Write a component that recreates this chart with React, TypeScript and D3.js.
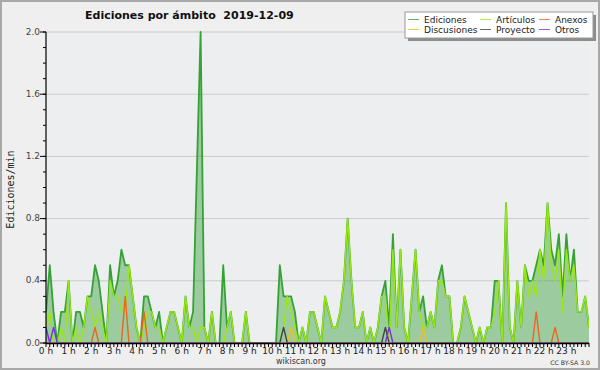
import React from 'react'
import * as d3 from 'd3'

// muestras cada 10 minutos, 0h -> 24h (145 puntos)
const hourLabels = ['0 h', '1 h', '2 h', '3 h', '4 h', '5 h', '6 h', '7 h', '8 h', '9 h', '10 h', '11 h',
	'12 h', '13 h', '14 h', '15 h', '16 h', '17 h', '18 h', '19 h', '20 h', '21 h', '22 h', '23 h']
const yTicks = [0, 0.4, 0.8, 1.2, 1.6, 2.0]

const ediciones = [
	0.2, 0.5, 0.2, 0, 0.2, 0.2, 0.4, 0, 0.2, 0.2, 0.1, 0.3,
	0.3, 0.5, 0.4, 0.2, 0, 0.5, 0.3, 0.4, 0.6, 0.5, 0.5, 0.3,
	0.1, 0, 0.3, 0.3, 0.2, 0.1, 0.2, 0, 0.1, 0.2, 0.2, 0.1,
	0, 0.3, 0.1, 0.2, 1.1, 2.0, 0.1, 0, 0.2, 0, 0, 0.5,
	0.1, 0.2, 0, 0, 0, 0.2, 0, 0, 0, 0, 0, 0,
	0, 0, 0.5, 0.3, 0.3, 0.3, 0.2, 0, 0.1, 0, 0.2, 0.2,
	0.1, 0, 0.3, 0.2, 0.1, 0.1, 0.2, 0.4, 0.8, 0.4, 0.1, 0.1,
	0.2, 0, 0.1, 0, 0.1, 0.3, 0.4, 0.1, 0.7, 0.1, 0.6, 0.1,
	0, 0.3, 0.6, 0.2, 0.3, 0.1, 0.2, 0.1, 0.4, 0.5, 0.3, 0.3,
	0, 0, 0.1, 0.3, 0.2, 0.1, 0, 0.1, 0, 0.1, 0.1, 0.4,
	0.4, 0, 0.9, 0.1, 0, 0.4, 0.1, 0.5, 0.4, 0.4, 0.5, 0.6,
	0.5, 0.9, 0.6, 0.5, 0.7, 0.3, 0.7, 0.4, 0.6, 0.2, 0.2, 0.3,
	0.1,
]

const articulos = [
	0.1, 0.2, 0, 0, 0.1, 0, 0.4, 0, 0.1, 0, 0.1, 0.3,
	0.2, 0.1, 0.2, 0.1, 0, 0.4, 0.3, 0.3, 0.2, 0.2, 0.5, 0.3,
	0.1, 0, 0.1, 0.2, 0.2, 0.1, 0.1, 0, 0.1, 0.2, 0.2, 0.1,
	0, 0.3, 0.1, 0.1, 0, 0.1, 0.1, 0, 0.2, 0, 0, 0,
	0.1, 0.2, 0, 0, 0, 0.2, 0, 0, 0, 0, 0, 0,
	0, 0, 0, 0.1, 0.3, 0.2, 0.1, 0, 0.1, 0, 0.2, 0.2,
	0.1, 0, 0.3, 0.2, 0.1, 0.1, 0.2, 0.4, 0.8, 0.4, 0.1, 0.1,
	0.2, 0, 0.1, 0, 0.1, 0.3, 0.3, 0, 0.6, 0.1, 0.6, 0.1,
	0, 0.3, 0.6, 0.2, 0.1, 0.1, 0.2, 0.1, 0.4, 0.4, 0.3, 0.3,
	0, 0, 0.1, 0.3, 0.2, 0.1, 0, 0.1, 0, 0.1, 0.1, 0.2,
	0.4, 0, 0.9, 0.1, 0, 0.4, 0.1, 0.5, 0.3, 0.4, 0.3, 0.6,
	0.4, 0.9, 0.5, 0.4, 0.6, 0.2, 0.6, 0.4, 0.5, 0.2, 0.2, 0.3,
	0.1,
]

const anexos = [
	0, 0, 0, 0, 0, 0, 0, 0, 0, 0, 0, 0,
	0, 0.1, 0, 0, 0, 0, 0, 0, 0, 0.3, 0, 0,
	0, 0, 0.2, 0, 0, 0, 0, 0, 0, 0, 0, 0,
	0, 0, 0, 0, 0, 0, 0, 0, 0, 0, 0, 0,
	0, 0, 0, 0, 0, 0, 0, 0, 0, 0, 0, 0,
	0, 0, 0, 0, 0, 0, 0, 0, 0, 0, 0, 0,
	0, 0, 0, 0, 0, 0, 0, 0, 0, 0, 0, 0,
	0, 0, 0, 0, 0, 0, 0, 0, 0, 0, 0, 0,
	0, 0, 0, 0, 0, 0, 0, 0, 0, 0, 0, 0,
	0, 0, 0, 0, 0, 0, 0, 0, 0, 0, 0, 0,
	0, 0, 0, 0, 0, 0, 0, 0, 0, 0, 0.2, 0,
	0, 0, 0, 0.1, 0, 0, 0, 0, 0, 0, 0, 0,
	0,
]

const discusiones = [
	0, 0, 0, 0, 0, 0, 0, 0, 0, 0, 0, 0,
	0, 0, 0, 0, 0, 0, 0, 0, 0, 0, 0, 0,
	0, 0, 0, 0, 0, 0, 0, 0, 0, 0, 0, 0,
	0, 0, 0, 0, 0, 0, 0, 0, 0, 0, 0, 0,
	0, 0, 0, 0, 0, 0, 0, 0, 0, 0, 0, 0,
	0, 0, 0, 0, 0, 0.1, 0, 0, 0, 0, 0, 0,
	0, 0, 0, 0, 0, 0, 0, 0, 0, 0, 0, 0,
	0, 0, 0, 0, 0, 0, 0, 0, 0, 0, 0, 0,
	0, 0, 0, 0, 0.1, 0, 0, 0, 0, 0, 0, 0,
	0, 0, 0, 0, 0, 0, 0, 0, 0, 0, 0, 0,
	0, 0, 0, 0, 0, 0, 0, 0, 0, 0, 0, 0,
	0, 0, 0, 0, 0, 0, 0, 0, 0, 0, 0, 0,
	0,
]

const proyecto = [
	0, 0, 0, 0, 0, 0, 0, 0, 0, 0, 0, 0,
	0, 0, 0, 0, 0, 0, 0, 0, 0, 0, 0, 0,
	0, 0, 0, 0, 0, 0, 0, 0, 0, 0, 0, 0,
	0, 0, 0, 0, 0, 0, 0, 0, 0, 0, 0, 0,
	0, 0, 0, 0, 0, 0, 0, 0, 0, 0, 0, 0,
	0, 0, 0, 0.1, 0, 0, 0, 0, 0, 0, 0, 0,
	0, 0, 0, 0, 0, 0, 0, 0, 0, 0, 0, 0,
	0, 0, 0, 0, 0, 0, 0.1, 0, 0, 0, 0, 0,
	0, 0, 0, 0, 0, 0, 0, 0, 0, 0, 0, 0,
	0, 0, 0, 0, 0, 0, 0, 0, 0, 0, 0, 0,
	0, 0, 0, 0, 0, 0, 0, 0, 0, 0, 0, 0,
	0, 0, 0, 0, 0, 0, 0, 0, 0, 0, 0, 0,
	0,
]

const otros = [
	0.1, 0, 0.1, 0, 0, 0, 0, 0, 0, 0, 0, 0,
	0, 0, 0, 0, 0, 0, 0, 0, 0, 0, 0, 0,
	0, 0, 0, 0, 0, 0, 0, 0, 0, 0, 0, 0,
	0, 0, 0, 0, 0, 0, 0, 0, 0, 0, 0, 0,
	0, 0, 0, 0, 0, 0, 0, 0, 0, 0, 0, 0,
	0, 0, 0, 0, 0, 0, 0, 0, 0, 0, 0, 0,
	0, 0, 0, 0, 0, 0, 0, 0, 0, 0, 0, 0,
	0, 0, 0, 0, 0, 0, 0, 0.1, 0, 0, 0, 0,
	0, 0, 0, 0, 0, 0, 0, 0, 0, 0, 0, 0,
	0, 0, 0, 0, 0, 0, 0, 0, 0, 0, 0, 0,
	0, 0, 0, 0, 0, 0, 0, 0, 0, 0, 0, 0,
	0, 0, 0, 0, 0, 0, 0, 0, 0, 0, 0, 0,
	0,
]

const seriesNames = ['Ediciones', 'Artículos', 'Anexos', 'Discusiones', 'Proyecto', 'Otros']
const seriesColors = ['#34a234', '#99e812', '#ee6420', '#f0c020', '#444444', '#7a2ee8']
const seriesData = [ediciones, articulos, anexos, discusiones, proyecto, otros]
// orden del recuadro de leyenda (3 columnas x 2 filas)
const legendOrder = [0, 1, 2, 3, 4, 5]

const width = 600
const height = 370
const plot = { left: 46, right: 589, top: 32, bottom: 343 }
const font = 'DejaVu Sans, sans-serif'

export default function App() {
	const x = d3.scaleLinear().domain([0, ediciones.length - 1]).range([plot.left, plot.right])
	const y = d3.scaleLinear().domain([0, 2]).range([plot.bottom, plot.top])
	const hourX = d3.scaleLinear().domain([0, 24]).range([plot.left, plot.right])

	const line = d3.line<number>().x((d, i) => x(i)).y(d => y(d))
	const area = d3.area<number>().x((d, i) => x(i)).y0(y(0)).y1(d => y(d))

	const minorY = y.ticks(20)
	const minorX = d3.range(ediciones.length)

	return (
		<svg width={width} height={height} style={{ position: 'absolute', left: 0, top: 0 }}
			fontFamily={font}>
			<defs>
				<clipPath id="plotClip">
					<rect x={plot.left} y={0} width={plot.right - plot.left} height={plot.bottom - 0.5} />
				</clipPath>
			</defs>
			<rect x={1} y={1} width={width - 2} height={height - 2} fill="#efefef" stroke="#a8a8a8" strokeWidth={2} />
			<rect x={plot.left} y={plot.top} width={plot.right - plot.left} height={plot.bottom - plot.top} fill="#eceef0" />

			{yTicks.filter(t => t > 0).map(t => (
				<line key={t} x1={plot.left} x2={plot.right} y1={y(t)} y2={y(t)} stroke="#cbcbcb" strokeWidth={1} />
			))}

			<g clipPath="url(#plotClip)">
				<path d={area(ediciones) || ''} fill="rgba(60,160,60,0.45)" />
				{seriesData.map((s, k) => (
					<path key={k} d={line(s) || ''} fill="none" stroke={seriesColors[k]}
						strokeWidth={k === 0 ? 1.8 : 1.4} strokeLinejoin="round" />
				))}
			</g>

			{/* eje Y */}
			<line x1={plot.left} x2={plot.left} y1={plot.top} y2={plot.bottom} stroke="#000" strokeWidth={1.2} />
			{minorY.map(t => (
				<line key={t} x1={plot.left - 3} x2={plot.left} y1={y(t)} y2={y(t)} stroke="#000" strokeWidth={1} />
			))}
			{yTicks.map(t => (
				<g key={t}>
					<line x1={plot.left - 6} x2={plot.left} y1={y(t)} y2={y(t)} stroke="#000" strokeWidth={1} />
					<text x={plot.left - 6} y={y(t)} textAnchor="end" dominantBaseline="middle" fontSize={9} fill="#444">
						{d3.format('.1f')(t)}
					</text>
				</g>
			))}
			<text transform={`translate(14, ${(plot.top + plot.bottom) / 2 + 2}) rotate(-90)`} textAnchor="middle"
				fontFamily="DejaVu Sans Mono, monospace" fontSize={10} fill="#222">Ediciones/min</text>

			{/* eje X */}
			<line x1={plot.left} x2={plot.right} y1={plot.bottom + 0.5} y2={plot.bottom + 0.5} stroke="#000" strokeWidth={1.6} />
			{minorX.map(i => (
				<line key={i} x1={x(i)} x2={x(i)} y1={plot.bottom} y2={plot.bottom + 4} stroke="#000" strokeWidth={1} />
			))}
			{hourLabels.map((h, i) => (
				<text key={h} x={hourX(i)} y={plot.bottom + 11} textAnchor="middle" fontSize={9} fill="#222">{h}</text>
			))}

			<text x={85} y={18.5} fontSize={11} fontWeight="bold" fill="#111" style={{ whiteSpace: 'pre' }}>
				{'Ediciones por ámbito  2019-12-09'}
			</text>

			{/* leyenda */}
			<rect x={408} y={15} width={188} height={26} fill="#8c8c8c" />
			<rect x={405} y={12} width={188} height={26} fill="#fff" stroke="#999" strokeWidth={1} />
			{legendOrder.map((k, n) => {
				const col = n % 3
				const row = Math.floor(n / 3)
				const lx = [408, 480, 539][col]
				const tx = [424, 496, 555][col]
				const ly = 19.5 + row * 10
				return (
					<g key={k}>
						<line x1={lx} x2={lx + 11} y1={ly} y2={ly} stroke={seriesColors[k]} strokeWidth={1} opacity={0.8} />
						<text x={tx} y={ly + 3.3} fontSize={9} fill="#222">{seriesNames[k]}</text>
					</g>
				)
			})}

			<text x={301} y={364} textAnchor="middle" fontSize={8} fill="#333">wikiscan.org</text>
			<text x={590} y={365} textAnchor="end" fontSize={6.2} fill="#333">CC BY-SA 3.0</text>
		</svg>
	)
}
